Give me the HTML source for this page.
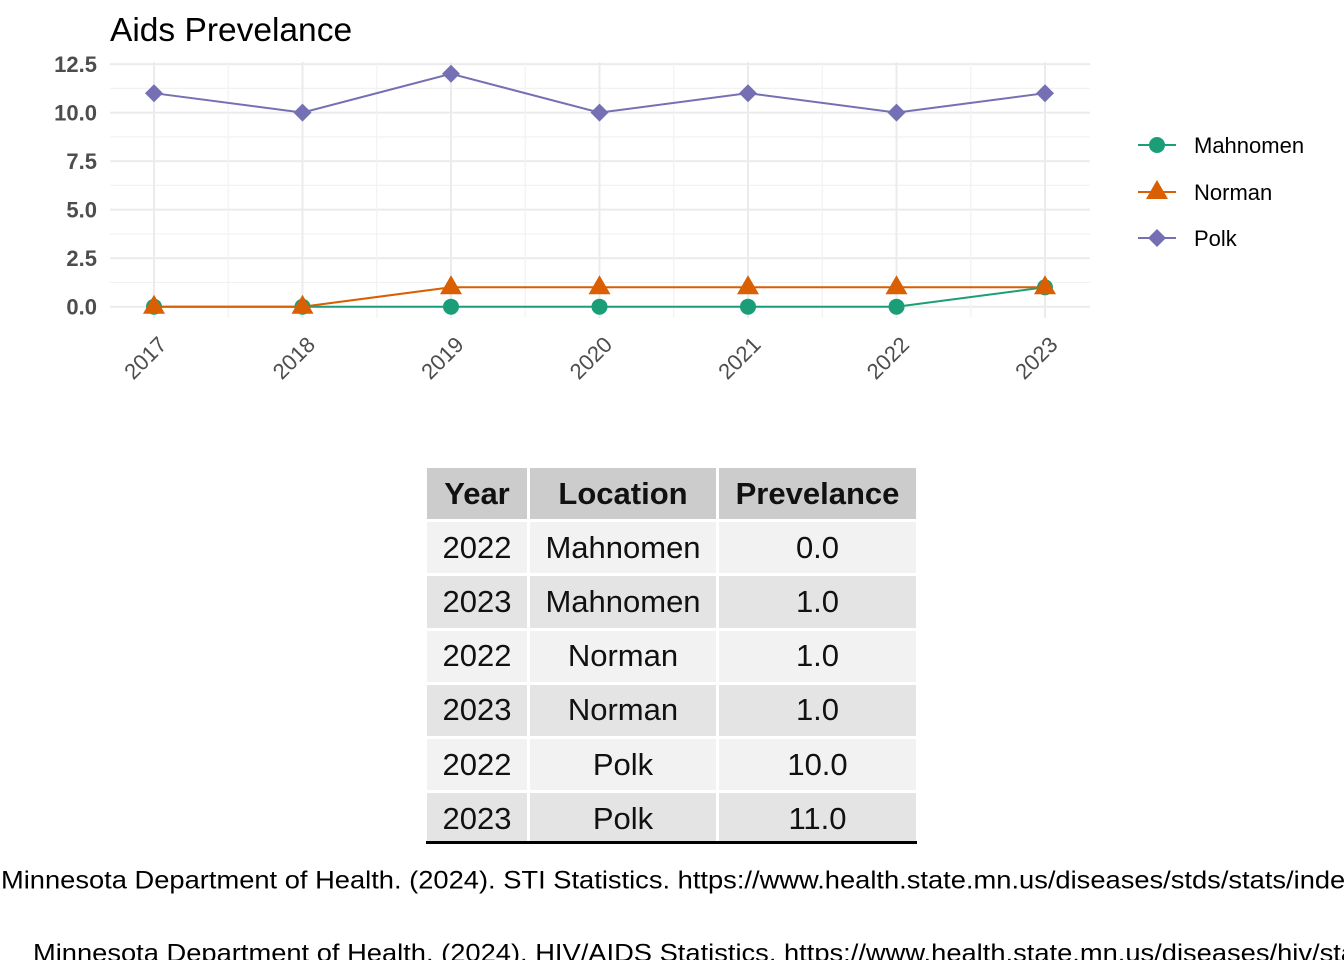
<!DOCTYPE html>
<html><head><meta charset="utf-8"><style>
body{margin:0;width:1344px;height:960px;overflow:hidden;background:#fff;font-family:"Liberation Sans",Arial,sans-serif;position:relative}
table{position:absolute;left:427px;top:468px;border-collapse:separate;border-spacing:3px 3px;margin:-3px;font-size:31px;color:#111}
td,th{text-align:center;padding:0 14px;height:51.2px}
th{background:#cccccc;font-weight:bold}
tr:nth-child(even) td{background:#f2f2f2}
tr:nth-child(odd) td{background:#e4e4e4}
#clip{position:absolute;left:0;top:850px;width:1344px;height:110px;overflow:hidden}
.cite{position:absolute;font-size:27.3px;white-space:nowrap;color:#000;transform:scaleY(0.93);transform-origin:0 0}
</style></head><body>
<svg width="1344" height="440" style="position:absolute;left:0;top:0" id="svg">
<text x="110" y="41" font-size="33.5" fill="#000" font-family="Liberation Sans, sans-serif">Aids Prevelance</text>
<g id="grid"></g><g id="series"></g><g id="axes"></g><g id="legend"></g>
</svg>
<table>
<tr><th style="width:72px">Year</th><th style="width:158px">Location</th><th style="width:169px">Prevelance</th></tr>
<tr><td>2022</td><td>Mahnomen</td><td>0.0</td></tr>
<tr><td>2023</td><td>Mahnomen</td><td>1.0</td></tr>
<tr><td>2022</td><td>Norman</td><td>1.0</td></tr>
<tr><td>2023</td><td>Norman</td><td>1.0</td></tr>
<tr><td>2022</td><td>Polk</td><td>10.0</td></tr>
<tr><td>2023</td><td>Polk</td><td>11.0</td></tr>
</table>
<div style="position:absolute;left:426px;top:841px;width:491px;height:3px;background:#000"></div>
<div id="clip">
<div class="cite" style="left:1px;top:15px">Minnesota Department of Health. (2024). STI Statistics. https://www.health.state.mn.us/diseases/stds/stats/index.html</div>
<div class="cite" style="left:33px;top:88px">Minnesota Department of Health. (2024). HIV/AIDS Statistics. https://www.health.state.mn.us/diseases/hiv/stats/index.html</div>
</div>
<script>
const years=[2017,2018,2019,2020,2021,2022,2023];
const mahnomen=[0,0,0,0,0,0,1];
const norman=[0,0,1,1,1,1,1];
const polk=[11,10,12,10,11,10,11];
const yTicks=[0,2.5,5,7.5,10,12.5];
const yLabels=["0.0","2.5","5.0","7.5","10.0","12.5"];
const NS="http://www.w3.org/2000/svg";
const X=y=>154+(y-2017)*148.5;
const Y=v=>306.7-v*19.41;
function mk(tag,attrs,parent){const e=document.createElementNS(NS,tag);for(const k in attrs)e.setAttribute(k,attrs[k]);document.getElementById(parent).appendChild(e);return e;}
for(let i=0;i<yTicks.length;i++){
 const l=mk('line',{x1:110,x2:1090,y1:Y(yTicks[i]),y2:Y(yTicks[i]),stroke:'#ebebeb','stroke-width':2},'grid');
 
 
 if(i<yTicks.length-1){const m=mk('line',{x1:110,x2:1090,y1:Y(yTicks[i]+1.25),y2:Y(yTicks[i]+1.25),stroke:'#f2f2f2','stroke-width':1.2},'grid');
 
 }
 const t=mk('text',{x:97,y:Y(yTicks[i])+8,'text-anchor':'end','font-size':22,'font-weight':'bold',fill:'#4d4d4d','font-family':'Liberation Sans, sans-serif'},'axes');
 t.textContent=yLabels[i];
 
 
}
years.forEach((yr,i)=>{
 const l=mk('line',{x1:X(yr),x2:X(yr),y1:62,y2:318,stroke:'#ebebeb','stroke-width':2},'grid');
 
 
 if(i<years.length-1){const m=mk('line',{x1:X(yr+0.5),x2:X(yr+0.5),y1:62,y2:318,stroke:'#f2f2f2','stroke-width':1.2},'grid');
 
 }
 const t=mk('text',{x:0,y:0,'text-anchor':'end','font-size':22,fill:'#4d4d4d','font-family':'Liberation Sans, sans-serif',transform:`translate(${X(yr)+14},${346}) rotate(-45)`},'axes');
 t.textContent=yr;
 
 
});
function marker(shape,x,y,c,name){
 let e;
 if(shape==='circle')e=mk('circle',{cx:x,cy:y,r:8,fill:c},'series');
 else if(shape==='tri')e=mk('polygon',{points:`${x},${y-12} ${x-11},${y+7} ${x+11},${y+7}`,fill:c},'series');
 else e=mk('polygon',{points:`${x},${y-9} ${x+9},${y} ${x},${y+9} ${x-9},${y}`,fill:c},'series');
 
 
 return e;
}
const series=[["mahnomen",mahnomen,'#1b9e77','circle'],["norman",norman,'#d95f02','tri'],["polk",polk,'#7570b3','diamond']];
series.forEach(([n,vals,c,s])=>{
 const p=mk('polyline',{points:vals.map((v,i)=>X(years[i])+','+Y(v)).join(' '),fill:'none',stroke:c,'stroke-width':2},'series');
 
 
});
series.forEach(([n,vals,c,s])=>vals.forEach((v,i)=>marker(s,X(years[i]),Y(v),c,n+'-point')));
const ly=[145,192,238],labels=["Mahnomen","Norman","Polk"];
series.forEach(([n,vals,c,s],i)=>{
 const l=mk('line',{x1:1138,x2:1176,y1:ly[i],y2:ly[i],stroke:c,'stroke-width':2},'legend');
 
 
 const m=marker(s,1157,ly[i],c,'legend-marker-'+n);
 document.getElementById('legend').appendChild(m);
 const t=mk('text',{x:1194,y:ly[i]+8,'font-size':22,fill:'#000','font-family':'Liberation Sans, sans-serif'},'legend');
 t.textContent=labels[i];
 
 
});
</script>
</body></html>
